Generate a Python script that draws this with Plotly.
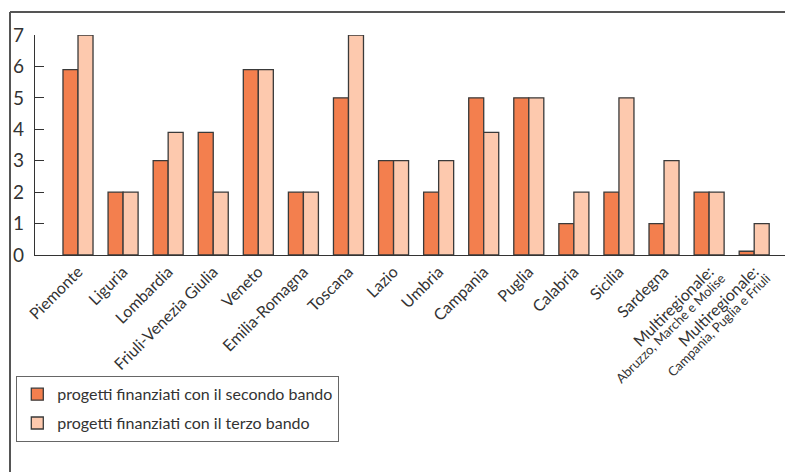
import plotly.graph_objects as go

categories = [
    "Piemonte", "Liguria", "Lombardia", "Friuli-Venezia Giulia", "Veneto",
    "Emilia-Romagna", "Toscana", "Lazio", "Umbria", "Campania", "Puglia",
    "Calabria", "Sicilia", "Sardegna",
    "Multiregionale: Abruzzo, Marche e Molise",
    "Multiregionale: Campania, Puglia e Friuli",
]
tick_labels = [
    "Piemonte", "Liguria", "Lombardia", "Friuli-Venezia Giulia", "Veneto",
    "Emilia-Romagna", "Toscana", "Lazio", "Umbria", "Campania", "Puglia",
    "Calabria", "Sicilia", "Sardegna", "Multiregionale:", "Multiregionale:",
]
tick_sublabels = [""] * 14 + ["Abruzzo, Marche e Molise", "Campania, Puglia e Friuli"]
secondo_bando = [5.9, 2, 3, 3.9, 5.9, 2, 5, 3, 2, 5, 5, 1, 2, 1, 2, 0.12]
terzo_bando = [7, 2, 3.9, 2, 5.9, 2, 7, 3, 3, 3.9, 5, 2, 5, 3, 2, 1]
series_names = ["progetti finanziati con il secondo bando",
                "progetti finanziati con il terzo bando"]
y_ticks = [0, 1, 2, 3, 4, 5, 6, 7]

FONT = "Lato"
TXT = "#333333"
EDGE = "#3a3a3a"

fig = go.Figure()
fig.add_trace(go.Bar(
    x=categories, y=secondo_bando, name=series_names[0], legendgroup="a",
    marker=dict(color="#F37F4E", line=dict(color=EDGE, width=1.3)),
))
fig.add_trace(go.Bar(
    x=categories, y=terzo_bando, name=series_names[1], legendgroup="b",
    marker=dict(color="#FDC9AE", line=dict(color=EDGE, width=1.3)),
))

OFF = 8  # page body margin
W, H = 793 - OFF, 472 - OFF
L, T = 35 - OFF, 35 - OFF
pw, ph = 753, 220
R = W - L - pw
B = H - T - ph

def px(xp):
    return (xp - 35) / pw

def py(yp):
    return (255 - yp) / ph

shapes = [
    dict(type="line", xref="paper", yref="paper", x0=px(10), x1=px(10),
         y0=py(12), y1=py(480), line=dict(color="#555555", width=2)),
    dict(type="line", xref="paper", yref="paper", x0=px(10), x1=px(800),
         y0=py(12), y1=py(12), line=dict(color="#555555", width=2)),
    dict(type="line", xref="paper", yref="paper", x0=1, x1=1,
         y0=0, y1=py(249), line=dict(color=TXT, width=1.3)),
]

annotations = []
for cat, sub in zip(categories, tick_sublabels):
    if sub:
        annotations.append(dict(
            x=cat, y=0, xref="x", yref="y", text=sub, showarrow=False,
            textangle=-45, xanchor="right", yanchor="top",
            xshift=22, yshift=-12,
            font=dict(family=FONT, size=13, color=TXT),
        ))

fig.update_layout(
    width=W, height=H,
    margin=dict(l=L, r=R, t=T, b=B, autoexpand=False),
    paper_bgcolor="white", plot_bgcolor="white",
    barmode="group", bargap=0.334, bargroupgap=0,
    font=dict(family=FONT, color=TXT),
    shapes=shapes,
    annotations=annotations,
    legend=dict(
        x=px(16), y=py(376), xanchor="left", yanchor="top",
        bordercolor="#666666", borderwidth=1.3, bgcolor="white",
        font=dict(family=FONT, size=16, color=TXT),
        traceorder="grouped", tracegroupgap=5,
        itemwidth=30,
    ),
    xaxis=dict(
        type="category", range=[-0.954, 15.75], showgrid=False,
        tickmode="array", tickvals=categories, ticktext=tick_labels,
        showline=True, linecolor=TXT, linewidth=1.3, ticks="",
        tickangle=-45, tickfont=dict(family=FONT, size=16, color=TXT),
        zeroline=False, fixedrange=True,
    ),
    yaxis=dict(
        range=[0, 7], tickvals=y_ticks, showgrid=False, zeroline=False,
        showline=True, linecolor=TXT, linewidth=1.3,
        ticks="inside", ticklen=9, tickwidth=1.3, tickcolor=TXT,
        tickfont=dict(family=FONT, size=19, color=TXT),
        ticklabelstandoff=6,
    ),
)

fig.write_html("out.html")
